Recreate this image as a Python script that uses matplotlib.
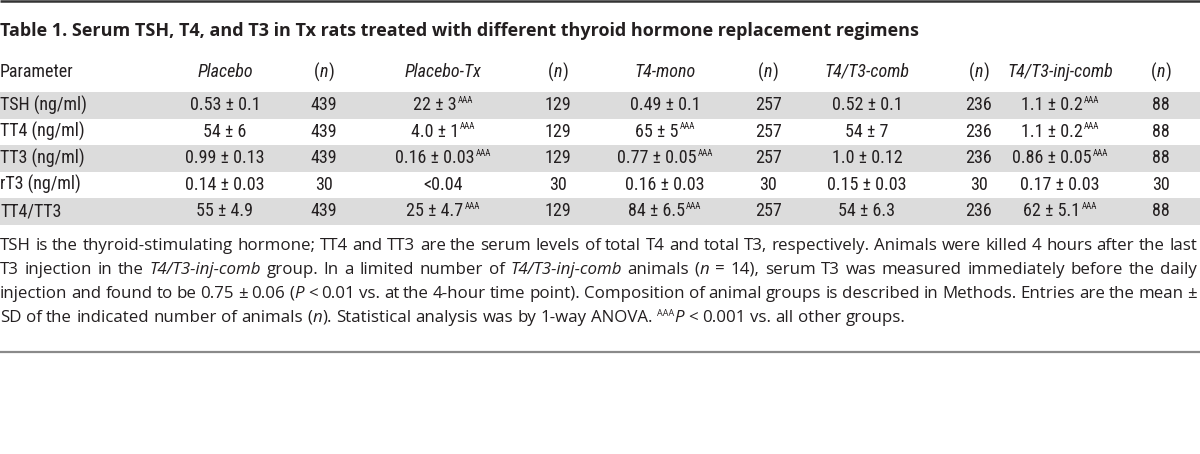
import matplotlib
matplotlib.use("Agg")
import matplotlib.pyplot as plt
from matplotlib import font_manager
from matplotlib.patches import Rectangle

# table content
title = "Table 1. Serum TSH, T4, and T3 in Tx rats treated with different thyroid hormone replacement regimens"
param_header = "Parameter"
groups = ["Placebo", "Placebo-Tx", "T4-mono", "T4/T3-comb", "T4/T3-inj-comb"]
params = ["TSH (ng/ml)", "TT4 (ng/ml)", "TT3 (ng/ml)", "rT3 (ng/ml)", "TT4/TT3"]

# mean ± SD per group, one entry per parameter
placebo = ["0.53 ± 0.1", "54 ± 6", "0.99 ± 0.13", "0.14 ± 0.03", "55 ± 4.9"]
placebo_tx = ["22 ± 3", "4.0 ± 1", "0.16 ± 0.03", "<0.04", "25 ± 4.7"]
t4_mono = ["0.49 ± 0.1", "65 ± 5", "0.77 ± 0.05", "0.16 ± 0.03", "84 ± 6.5"]
t4t3_comb = ["0.52 ± 0.1", "54 ± 7", "1.0 ± 0.12", "0.15 ± 0.03", "54 ± 6.3"]
t4t3_inj = ["1.1 ± 0.2", "1.1 ± 0.2", "0.86 ± 0.05", "0.17 ± 0.03", "62 ± 5.1"]

# AAA significance flags
sig_placebo = [0, 0, 0, 0, 0]
sig_placebo_tx = [1, 1, 1, 0, 1]
sig_t4_mono = [0, 1, 1, 0, 1]
sig_t4t3_comb = [0, 0, 0, 0, 0]
sig_t4t3_inj = [1, 1, 1, 0, 1]

# number of animals
n_placebo = [439, 439, 439, 30, 439]
n_placebo_tx = [129, 129, 129, 30, 129]
n_t4_mono = [257, 257, 257, 30, 257]
n_t4t3_comb = [236, 236, 236, 30, 236]
n_t4t3_inj = [88, 88, 88, 30, 88]

values = [placebo, placebo_tx, t4_mono, t4t3_comb, t4t3_inj]
sigs = [sig_placebo, sig_placebo_tx, sig_t4_mono, sig_t4t3_comb, sig_t4t3_inj]
counts = [n_placebo, n_placebo_tx, n_t4_mono, n_t4t3_comb, n_t4t3_inj]

# footnote, one list of (text, style) per printed line
footnote = [
    [("TSH is the thyroid-stimulating hormone; TT4 and TT3 are the serum levels of total T4 and total T3, respectively. "
      "Animals were killed 4 hours after the last", "n")],
    [("T3 injection in the ", "n"), ("T4/T3-inj-comb", "i"), (" group. In a limited number of ", "n"),
     ("T4/T3-inj-comb", "i"), (" animals (", "n"), ("n", "i"),
     (" = 14), serum T3 was measured immediately before the daily", "n")],
    [("injection and found to be 0.75 ± 0.06 (", "n"), ("P", "i"),
     (" < 0.01 vs. at the 4-hour time point). Composition of animal groups is described in Methods. "
      "Entries are the mean ±", "n")],
    [("SD of the indicated number of animals (", "n"), ("n", "i"),
     ("). Statistical analysis was by 1-way ANOVA. ", "n"), ("AAA", "s"), ("P", "i"),
     (" < 0.001 vs. all other groups.", "n")],
]

# the reference cells use a very condensed sans; take the narrowest one found
installed = {f.name for f in font_manager.fontManager.ttflist}
cell_font, fs = "Roboto", 12.0
for name, size in [("Noto Sans ExtraCondensed", 13.4), ("Roboto Condensed", 13.0),
                   ("Liberation Sans Narrow", 13.2), ("Noto Sans Condensed", 12.6),
                   ("DejaVu Sans Condensed", 11.8), ("Noto Sans SemiCondensed", 12.0)]:
    if name in installed:
        cell_font, fs = name, size
        break

text_font = "Open Sans"
ink = "#231f20"
band = "#dcdcdc"

W, H = 1200, 454
fig = plt.figure(figsize=(W / 100, H / 100), dpi=100)
ax = fig.add_axes([0, 0, 1, 1])
ax.set_xlim(0, W)
ax.set_ylim(H, 0)
ax.axis("off")
renderer = fig.canvas.get_renderer()


def width_of(t):
    return t.get_window_extent(renderer).width


def cell(x, y, s, **kw):
    return ax.text(x, y, s, fontsize=kw.pop("size", fs), family=cell_font,
                   color=ink, va="center", **kw)


# rules
ax.plot([0, W], [1, 1], color="#333333", lw=1.8, solid_capstyle="butt")
ax.plot([0, W], [351.5, 351.5], color="#8a8a8a", lw=1.6, solid_capstyle="butt")

ax.text(0, 31, title, fontsize=13.0, fontweight="bold", family=text_font,
        color=ink, va="center", ha="left")

col_val = [225, 443, 665, 867, 1060]
col_n = [324, 558, 768, 979, 1161]
row_top = 92
row_h = 26.5
header_y = 72

cell(0, header_y, param_header)
for g, xv, xn in zip(groups, col_val, col_n):
    cell(xv, header_y, g, style="italic", ha="center")
    # "(n)" with italic n, laid out piece by piece and centred on the column
    parts = [cell(0, header_y, "("), cell(0, header_y, "n", style="italic"), cell(0, header_y, ")")]
    widths = [width_of(p) for p in parts]
    x = xn - sum(widths) / 2
    for p, w in zip(parts, widths):
        p.set_x(x)
        x += w

for i, p in enumerate(params):
    y0 = row_top + i * row_h
    if i % 2 == 0:
        ax.add_patch(Rectangle((0, y0), W, row_h, facecolor=band, edgecolor="none", zorder=0))
    yc = y0 + row_h / 2
    cell(0, yc, p)
    for j in range(len(groups)):
        main = cell(0, yc, values[j][i])
        if sigs[j][i]:
            sup = cell(0, yc - 5, "AAA", size=fs * 0.5)
            wm, ws = width_of(main), width_of(sup)
            x0 = col_val[j] - (wm + ws + 1) / 2
            main.set_x(x0)
            sup.set_x(x0 + wm + 1)
        else:
            main.set_ha("center")
            main.set_x(col_val[j])
        cell(col_n[j], yc, str(counts[j][i]), ha="center")

# footnote: justified to the full width, except the last line
line_y = [246, 270, 294, 318]
fn_fs = 12.2
right = 1197


def fn_text(s, kind):
    if kind == "s":
        return ax.text(0, 0, s, fontsize=6.5, family=text_font, color=ink, va="center")
    return ax.text(0, 0, s, fontsize=fn_fs, family=text_font, color=ink, va="center",
                   style="italic" if kind == "i" else "normal")


probe = [fn_text("x x", "n"), fn_text("xx", "n")]
space = width_of(probe[0]) - width_of(probe[1])
for t in probe:
    t.remove()

for k, (segs, y) in enumerate(zip(footnote, line_y)):
    words = [[]]
    for s, kind in segs:
        for m, part in enumerate(s.split(" ")):
            if m > 0:
                words.append([])
            if part:
                words[-1].append((part, kind))
    words = [w for w in words if w]

    placed = []
    for w in words:
        pieces = [(fn_text(s, kind), kind) for s, kind in w]
        placed.append((pieces, sum(width_of(t) for t, _ in pieces)))
    total = sum(wd for _, wd in placed)
    last = k == len(footnote) - 1
    gap = space if last else (right - total) / (len(placed) - 1)

    x = 0
    for pieces, wd in placed:
        px = x
        for t, kind in pieces:
            t.set_position((px, y - 5 if kind == "s" else y))
            px += width_of(t)
        x += wd + gap

fig.savefig("out.png", dpi=100)
